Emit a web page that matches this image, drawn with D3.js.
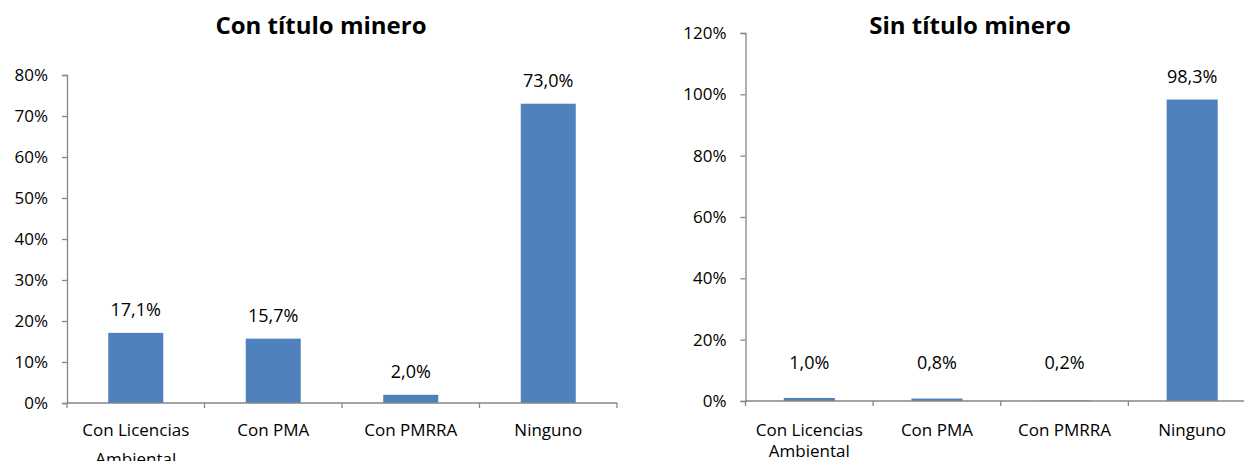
<!DOCTYPE html>
<html>
<head>
<meta charset="utf-8">
<script src="https://cdn.jsdelivr.net/npm/d3@7"></script>
<style>
  html, body { margin: 0; padding: 0; background: #fff; }
  svg { display: block; font-family: "Open Sans", Carlito, Calibri, sans-serif; }
</style>
</head>
<body>
<svg id="chart" width="1244" height="461"></svg>
<script>
// Categories shared by both panels
const categories = ["Con Licencias Ambiental", "Con PMA", "Con PMRRA", "Ninguno"];

// Share of mining units per environmental instrument (%)
const conTituloValues = [17.1, 15.7, 2.0, 73.0];
const sinTituloValues = [1.0, 0.8, 0.2, 98.3];

// Y-axis ticks for each panel (%)
const conTituloTicks = [0, 10, 20, 30, 40, 50, 60, 70, 80];
const sinTituloTicks = [0, 20, 40, 60, 80, 100, 120];

const titles = ["Con título minero", "Sin título minero"];

const BAR = "#4F81BD";
const AXIS = "#868686";
const FONT = "\"Open Sans\", Carlito, Calibri, sans-serif";

const svg = d3.select("#chart");

const panels = [
  { title: titles[0], values: conTituloValues, ticks: conTituloTicks, yMax: 80,
    x0: 67, x1: 617, y0: 403, y1: 75, titleX: 321, lineGap: 29, labelFloor: null },
  { title: titles[1], values: sinTituloValues, ticks: sinTituloTicks, yMax: 120,
    x0: 745.5, x1: 1256, y0: 401, y1: 33, titleX: 970, lineGap: 21, labelFloor: 32 }
];

const fmt = v => v.toFixed(1).replace(".", ",") + "%";

panels.forEach(p => {
  const g = svg.append("g");

  const x = d3.scaleBand().domain(categories).range([p.x0, p.x1]).paddingInner(0.6).paddingOuter(0.3);
  const xTicks = d3.scaleBand().domain(categories).range([p.x0, p.x1]);
  const y = d3.scaleLinear().domain([0, p.yMax]).range([p.y0, p.y1]);

  // Y axis
  const yAxis = g.append("g")
    .attr("transform", `translate(${p.x0},0)`)
    .call(d3.axisLeft(y).tickValues(p.ticks).tickSize(5).tickPadding(14)
      .tickFormat(d => d + "%"));
  yAxis.select(".domain").attr("stroke", AXIS).attr("stroke-width", 1.3);
  yAxis.selectAll(".tick line").attr("stroke", AXIS).attr("stroke-width", 1.3);
  yAxis.selectAll(".tick text")
    .attr("font-family", FONT)
    .attr("font-size", 17).attr("fill", "#000");

  // Bars
  g.selectAll("rect.bar").data(p.values).join("rect")
    .attr("class", "bar")
    .attr("x", (d, i) => x(categories[i]))
    .attr("width", x.bandwidth())
    .attr("y", d => y(d))
    .attr("height", d => y(0) - y(d))
    .attr("fill", BAR);

  // X axis line and category boundary ticks
  g.append("line")
    .attr("x1", p.x0).attr("x2", p.x1).attr("y1", y(0)).attr("y2", y(0))
    .attr("stroke", AXIS).attr("stroke-width", 1.3);
  const bounds = categories.map(c => xTicks(c)).concat([p.x1]);
  g.selectAll("line.xt").data(bounds).join("line")
    .attr("class", "xt")
    .attr("x1", d => d).attr("x2", d => d)
    .attr("y1", y(0)).attr("y2", y(0) + 5)
    .attr("stroke", AXIS).attr("stroke-width", 1.3);

  // Category labels (wrapped on two lines where needed)
  categories.forEach(c => {
    const cx = xTicks(c) + xTicks.bandwidth() / 2;
    const words = c.split(" ");
    const lines = words.length > 2 ? [words.slice(0, 2).join(" "), words.slice(2).join(" ")] : [c];
    const t = g.append("text")
      .attr("text-anchor", "middle")
      .attr("font-family", FONT)
      .attr("font-size", 17)
      .attr("fill", "#000");
    lines.forEach((ln, k) => {
      t.append("tspan").attr("x", cx).attr("y", 436 + k * p.lineGap).text(ln);
    });
  });

  // Value labels above bars
  g.selectAll("text.val").data(p.values).join("text")
    .attr("class", "val")
    .attr("x", (d, i) => x(categories[i]) + x.bandwidth() / 2)
    .attr("y", d => {
      const ly = y(d) - 17;
      return p.labelFloor == null ? ly : Math.min(ly, y(0) - p.labelFloor);
    })
    .attr("text-anchor", "middle")
    .attr("font-family", FONT)
    .attr("font-size", 18)
    .attr("fill", "#000")
    .text(fmt);

  // Title
  g.append("text")
    .attr("x", p.titleX).attr("y", 34)
    .attr("text-anchor", "middle")
    .attr("font-family", FONT)
    .attr("font-size", 24).attr("font-weight", "bold")
    .attr("fill", "#000")
    .text(p.title);
});
</script>
</body>
</html>
